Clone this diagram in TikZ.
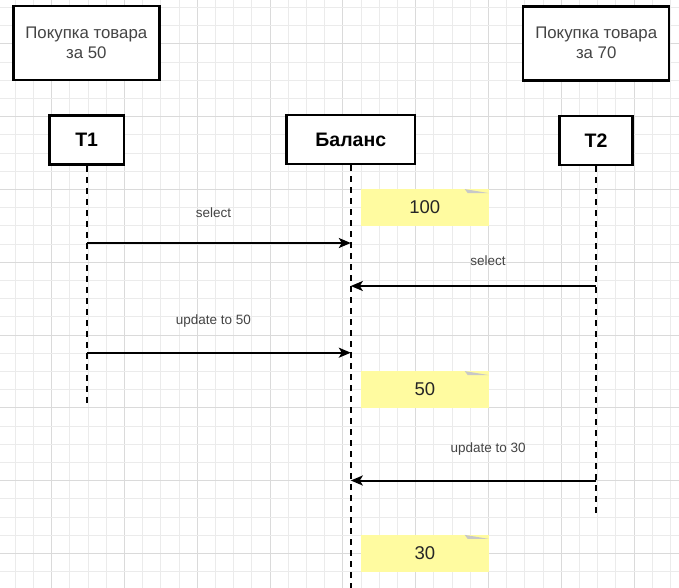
\documentclass[tikz,border=0pt]{standalone}
\usepackage{fontspec}
\setmainfont{Liberation Sans}
\usetikzlibrary{arrows.meta}
\definecolor{gridminor}{HTML}{EBEBEB}
\definecolor{gridmajor}{HTML}{DADADA}
\definecolor{notefill}{HTML}{FFFBA0}
\definecolor{notefold}{HTML}{C8C8C8}
\definecolor{txtgray}{HTML}{444444}

\begin{document}
\begin{tikzpicture}[x=1pt,y=-1pt,
        box/.style={draw, line width=2.5pt, fill=white, inner sep=0pt, align=center},
        actor/.style={box, minimum height=49pt, font=\bfseries\fontsize{19.5}{22}\selectfont},
        buyer/.style={box, minimum width=146pt, minimum height=74pt, text=txtgray, font=\fontsize{16.8}{20}\selectfont},
        life/.style={line width=2.2pt, dash pattern=on 6pt off 5pt},
        msg/.style={line width=2pt, -{Stealth[length=12pt, width=10pt, inset=3pt]}},
        lbl/.style={text=txtgray, inner sep=0pt, font=\fontsize{13.5}{16}\selectfont},
        note/.style={fill=notefill, inner sep=0pt, minimum width=127.4pt, minimum height=36.4pt, text=black!85, font=\fontsize{18.5}{20}\selectfont}]
        \useasboundingbox (0,0) rectangle (679,588);
        \fill[white] (0,0) rectangle (679,588);

        % grid
        \foreach \i in {0,...,36} {
            \pgfmathtruncatemacro{\m}{mod(\i+2,4)}
            \ifnum\m=0 \def\gc{gridmajor}\else\def\gc{gridminor}\fi
            \draw[\gc, line width=1pt] (15.3+18.2*\i,0) -- (15.3+18.2*\i,588);
        }
        \foreach \j in {0,...,31} {
            \pgfmathtruncatemacro{\m}{mod(\j+2,4)}
            \ifnum\m=0 \def\gc{gridmajor}\else\def\gc{gridminor}\fi
            \draw[\gc, line width=1pt] (0,7.5+18.2*\j) -- (679,7.5+18.2*\j);
        }

        % buyers
        \node[buyer] (buy1) at (86.3,43) {Покупка товара\\за 50};
        \node[buyer] (buy2) at (596.2,43.3) {Покупка товара\\за 70};

        % actors
        \node[actor, minimum width=74.7pt] (t1) at (86.7,140) {T1};
        \node[actor, minimum width=128.3pt] (bal) at (350.8,139.7) {Баланс};
        \node[actor, minimum width=73.4pt] (t2) at (596,140.3) {T2};

        % lifeline ends
        \coordinate (t1end) at (86.7,405);
        \coordinate (balend) at (350.8,588);
        \coordinate (t2end) at (596,515);
        \draw[life] (t1.south) -- (t1end);
        \draw[life] (bal.south) -- (balend);
        \draw[life] (t2.south) -- (t2end);

        % notes
        \node[note] (n100) at (424.8,207.5) {100};
        \node[note] (n50) at (424.8,389.5) {50};
        \node[note] (n30) at (424.8,553.3) {30};
        \foreach \n in {n100,n50,n30}
            \fill[notefold] (\n.north east) ++(-24,0) -- ++(24,4) -- ++(-21,0) -- cycle;

        % messages
        \coordinate (a1) at (86.7,243);
        \coordinate (b1) at (350.8,243);
        \coordinate (a2) at (596,286);
        \coordinate (b2) at (350.8,286);
        \coordinate (a3) at (86.7,352.7);
        \coordinate (b3) at (350.8,352.7);
        \coordinate (a4) at (596,480.5);
        \coordinate (b4) at (350.8,480.5);

        \draw[msg] (a1) -- (b1) node[lbl, pos=0.48, above=24pt] (l1) {select};
        \draw[msg] (a2) -- (b2) node[lbl, pos=0.44, above=19pt] (l2) {select};
        \draw[msg] (a3) -- (b3) node[lbl, pos=0.48, above=24pt] (l3) {update to 50};
        \draw[msg] (a4) -- (b4) node[lbl, pos=0.44, above=24pt] (l4) {update to 30};
    \end{tikzpicture}
\end{document}
